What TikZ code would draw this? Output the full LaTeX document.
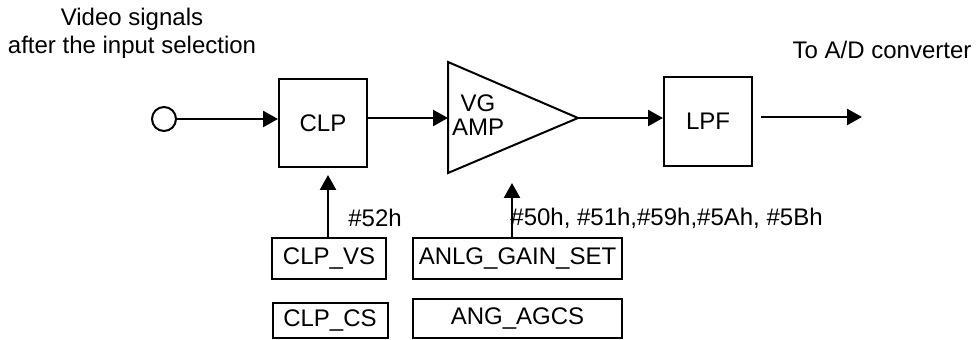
\documentclass[tikz,border=0pt]{standalone}
\usepackage{fontspec}
\setmainfont{Liberation Sans}
\usetikzlibrary{arrows.meta}

\begin{document}
\begin{tikzpicture}[x=0.5pt,y=-0.5pt,
	font=\fontsize{12}{14}\selectfont,
	blk/.style={draw, line width=1pt, inner sep=0pt},
	arr/.style={-{Triangle[length=7.5pt,width=8pt]}, line width=1.2pt},
	lbl/.style={anchor=west, inner sep=0pt}]
	\useasboundingbox (0,0) rectangle (979,340);
	% signal path
	\node (vid) at (132,33)	[align=center]	{Video signals\\after the input selection};
	\node (ad) at (882,50)	{To A/D converter};
	\node (in) at (164,119)	[circle, draw, line width=1pt, minimum size=12pt, inner sep=0pt]	{};
	\node (clp) at (323,123)	[blk, minimum width=44pt, minimum height=44pt]	{CLP};
	\coordinate (ampin) at (448,118);
	\coordinate (ampout) at (578,118);
	\draw[line width=1pt] (448,62) -- (ampout) -- (448,173) -- cycle;
	\node (vg) at (478,115)	[align=center, font=\fontsize{12}{12}\selectfont]	{VG\\AMP};
	\node (lpf) at (708,121.5)	[blk, minimum width=44pt, minimum height=44.5pt]	{LPF};
	\coordinate (adout) at (862,117);
	\draw[arr] (in) -- (in -| clp.west);
	\draw[arr] (clp.east |- ampin) -- (ampin);
	\draw[arr] (ampout) -- (ampout -| lpf.west);
	\draw[arr] ([xshift=4pt]lpf.east |- adout) -- (adout);
	% control registers
	\node (clpvs) at (329,258.5)	[blk, minimum width=57pt, minimum height=20.5pt]	{CLP\_VS};
	\node (gain) at (517.5,258.5)	[blk, minimum width=104.5pt, minimum height=20.5pt]	{ANLG\_GAIN\_SET};
	\node (clpcs) at (330,320.5)	[blk, minimum width=57.5pt, minimum height=17.5pt]	{CLP\_CS};
	\node (agcs) at (517.5,318.5)	[blk, minimum width=104.5pt, minimum height=19.5pt]	{ANG\_AGCS};
	\coordinate (clpctl) at (328,175);
	\coordinate (gainctl) at (512,183);
	\draw[arr] (clpvs.north -| clpctl) -- (clpctl);
	\draw[arr] (gain.north -| gainctl) -- (gainctl);
	\node (h52) at (348,218)	[lbl]	{\#52h};
	\node (hgain) at (510,218)	[lbl]	{\#50h, \#51h,\#59h,\#5Ah, \#5Bh};
\end{tikzpicture}
\end{document}
